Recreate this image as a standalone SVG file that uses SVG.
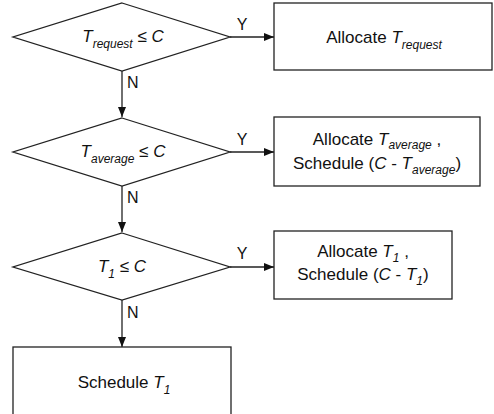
<svg xmlns="http://www.w3.org/2000/svg" width="494" height="414" viewBox="0 0 494 414">
<defs>
<marker id="ah" markerWidth="10" markerHeight="8" refX="10" refY="4" orient="auto" markerUnits="userSpaceOnUse">
<path d="M0,0 L10,4 L0,8 Z" fill="#111"/>
</marker>
<style>
.s{fill:#fff;stroke:#222;stroke-width:1.3}
.c{stroke:#222;stroke-width:1.3;fill:none}
text{font-family:"Liberation Sans",Arial,sans-serif;font-size:17px;fill:#111}
.l{font-size:16px}
.i{font-style:italic}
.sub{font-style:italic;font-size:12px}
</style>
</defs>
<rect width="494" height="414" fill="#fff"/>
<g id="connectors">
<line class="c" x1="122" y1="71" x2="122" y2="117" marker-end="url(#ah)"/>
<line class="c" x1="122" y1="186" x2="122" y2="232" marker-end="url(#ah)"/>
<line class="c" x1="122" y1="300" x2="122" y2="347" marker-end="url(#ah)"/>
<line class="c" x1="230" y1="37" x2="274" y2="37" marker-end="url(#ah)"/>
<line class="c" x1="230" y1="152" x2="274" y2="152" marker-end="url(#ah)"/>
<line class="c" x1="230" y1="267" x2="274" y2="267" marker-end="url(#ah)"/>
<text class="l" x="242" y="30" text-anchor="middle">Y</text>
<text class="l" x="242" y="145" text-anchor="middle">Y</text>
<text class="l" x="242" y="259" text-anchor="middle">Y</text>
<text class="l" x="127" y="88">N</text>
<text class="l" x="127" y="203">N</text>
<text class="l" x="127" y="318">N</text>
</g>
<g id="d1">
<polygon class="s" points="122,3 230,37 122,71 13,37"/>
<text x="123" y="42" text-anchor="middle"><tspan class="i">T</tspan><tspan class="sub" dy="6">request</tspan><tspan dy="-6"> ≤ </tspan><tspan class="i">C</tspan></text>
</g>
<g id="b1">
<rect class="s" x="274" y="3" width="218" height="67"/>
<text x="384" y="43" text-anchor="middle">Allocate <tspan class="i">T</tspan><tspan class="sub" dy="6">request</tspan></text>
</g>
<g id="d2">
<polygon class="s" points="122,118 230,152 122,186 13,152"/>
<text x="123" y="157" text-anchor="middle"><tspan class="i">T</tspan><tspan class="sub" dy="6">average</tspan><tspan dy="-6"> ≤ </tspan><tspan class="i">C</tspan></text>
</g>
<g id="b2">
<rect class="s" x="274" y="117" width="206" height="69"/>
<text x="377" y="145" text-anchor="middle">Allocate <tspan class="i">T</tspan><tspan class="sub" dy="4">average</tspan><tspan dy="-4"> ,</tspan></text>
<text x="377" y="169" text-anchor="middle">Schedule (<tspan class="i">C</tspan> - <tspan class="i">T</tspan><tspan class="sub" dy="5">average</tspan><tspan dy="-5">)</tspan></text>
</g>
<g id="d3">
<polygon class="s" points="122,233 230,267 122,300 13,267"/>
<text x="122" y="272" text-anchor="middle"><tspan class="i">T</tspan><tspan class="sub" dy="6">1</tspan><tspan dy="-6"> ≤ </tspan><tspan class="i">C</tspan></text>
</g>
<g id="b3">
<rect class="s" x="274" y="231" width="178" height="68"/>
<text x="363" y="257" text-anchor="middle">Allocate <tspan class="i">T</tspan><tspan class="sub" dy="5">1</tspan><tspan dy="-5"> ,</tspan></text>
<text x="363" y="280" text-anchor="middle">Schedule (<tspan class="i">C</tspan> - <tspan class="i">T</tspan><tspan class="sub" dy="5">1</tspan><tspan dy="-5">)</tspan></text>
</g>
<g id="b4">
<rect class="s" x="13" y="347" width="218" height="80"/>
<text x="124" y="388" text-anchor="middle">Schedule <tspan class="i">T</tspan><tspan class="sub" dy="6">1</tspan></text>
</g>
</svg>
